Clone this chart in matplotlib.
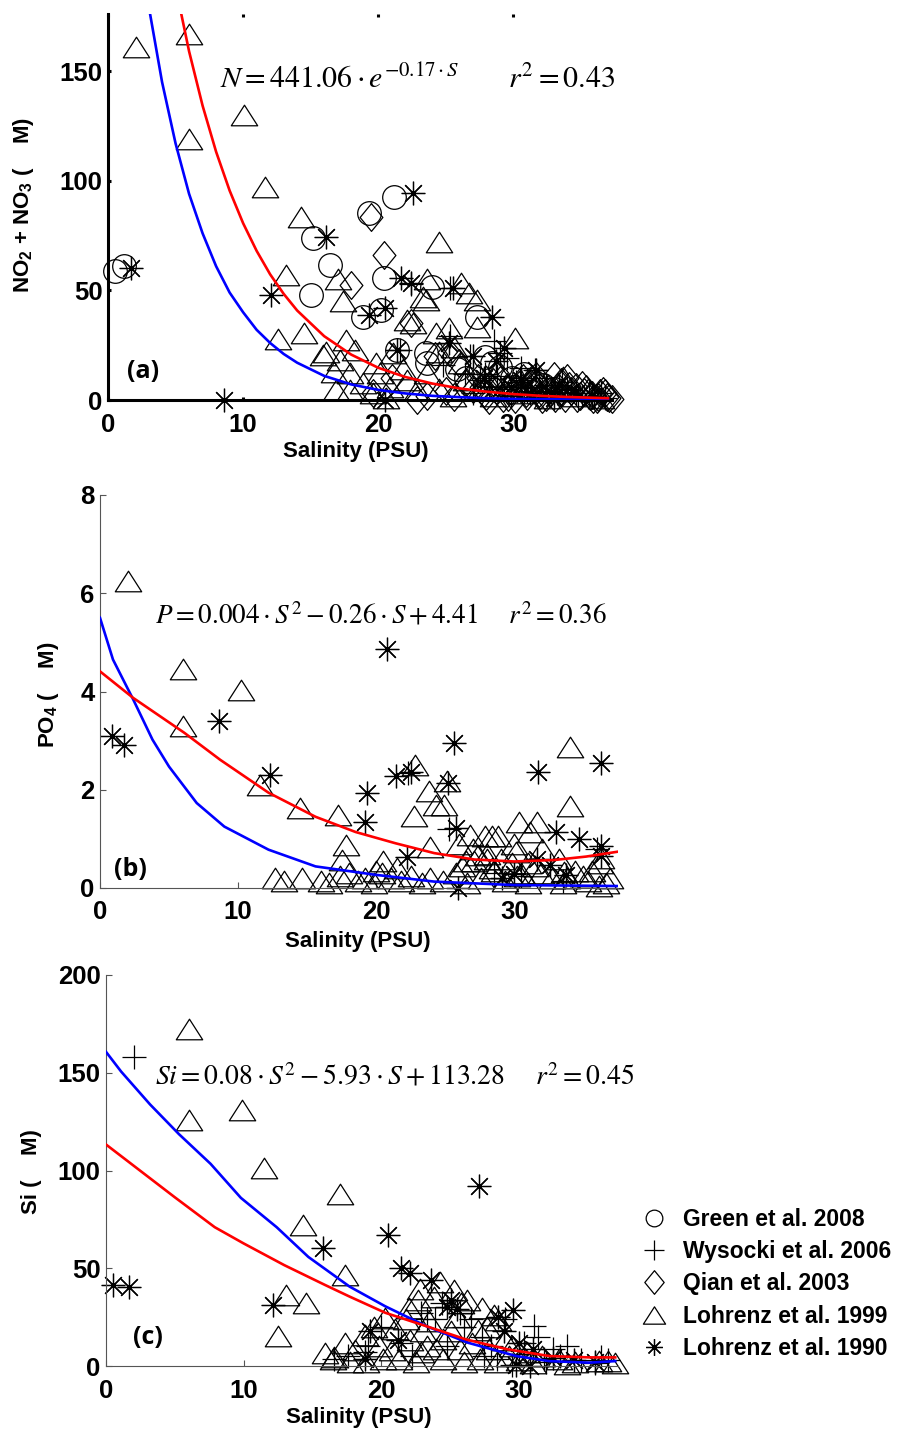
import matplotlib
matplotlib.use('Agg')
import matplotlib.pyplot as plt
from matplotlib.path import Path
from matplotlib.lines import Line2D

plt.rcParams['font.family'] = ['Liberation Sans', 'DejaVu Sans']
plt.rcParams['mathtext.fontset'] = 'custom'
plt.rcParams['mathtext.rm'] = 'Liberation Sans:bold'
plt.rcParams['mathtext.it'] = 'Liberation Sans:italic:bold'
plt.rcParams['mathtext.bf'] = 'Liberation Sans:bold'

# ---- panel (a): NO2 + NO3 ----
a_green_s = [0.5, 1.2, 15.2, 16.4, 15.0, 19.3, 21.2, 20.4, 20.2, 18.9, 21.4, 24.0, 23.5,
             27.3, 27.9, 29.0, 29.9, 25.8, 30.0, 28.4, 31.5, 33.0, 23.6, 26.5, 30.8, 32.2]
a_green_n = [58.6, 60.9, 74, 61.6, 48, 85.4, 92.7, 55.7, 41, 38, 22.8, 51.6, 21.5,
             38, 19.6, 15, 10, 14, 6, 16.9, 8, 5, 16.9, 10, 12, 7]
a_wys_s = [25.3, 25.3, 29.0, 29.5, 31.6, 30.6, 27.5, 28.2, 28.8, 30.2, 31.0, 32.4, 33.2, 34.0,
           35.1, 36.0, 26.4, 27.0, 29.8, 31.9, 33.6, 34.8, 36.5, 21.6, 22.4, 24.8, 26.8, 28.6,
           27.9, 29.3, 30.5, 31.3, 32.8, 34.3, 35.6, 36.8]
a_wys_n = [51, 29, 21.5, 19, 13.7, 14.5, 9, 6, 11, 8, 4, 7, 3, 5,
           2, 1.5, 12, 3, 2, 10, 8, 1, 3, 23, 53, 16, 20, 27,
           12, 5, 10, 6, 3.5, 4.5, 3, 1]
a_qian_s = [19.5, 20.4, 18.0, 22.4, 22.9, 25.6, 27.0, 27.8, 28.5, 29.2,
            29.8, 30.4, 31.0, 31.6, 32.1, 32.7, 33.3, 33.8, 34.3, 34.9,
            35.4, 35.9, 36.4, 36.9, 37.3, 27.4, 28.9, 30.1, 31.3, 32.4,
            33.5, 34.6, 35.7, 36.6, 29.5, 31.9, 34.0, 36.2, 26.5, 28.2,
            30.7, 33.0, 35.1, 24.2, 25.0, 21.0, 23.6, 19.6, 25.2, 26.0,
            27.6, 28.0, 28.7, 29.0, 29.6, 30.3, 30.9, 31.4, 32.0, 32.6,
            33.1, 33.6, 34.1, 34.7, 35.2, 35.8, 36.3, 36.8, 37.1, 31.7]
a_qian_n = [83.6, 66, 52.5, 35, 0, 1.5, 5, 3, 8, 1,
            4, 7, 2, 5, 0.5, 3, 6, 1, 4, 2,
            5, 0.5, 3, 1.5, 0.5, 10, 12, 0.5, 9, 1.5,
            8, 6, 2, 4, 6, 3, 10, 0.3, 8, 0,
            10, 11, 7, 20, 4, 10, 2, 3, 22, 17,
            6, 2, 4.5, 9, 1.5, 5.5, 3, 7, 2.5, 5,
            1, 3.5, 6.5, 1, 3.5, 2.5, 1.5, 3, 1, 11]
a_l99_s = [2.1, 6.0, 6.0, 10.1, 11.6, 14.3, 24.5, 13.2, 12.6, 14.5,
           17.0, 17.4, 16.1, 17.6, 22.6, 23.6, 23.5, 26.1, 26.7, 27.3,
           30.1, 25.2, 24.3, 21.1, 15.9, 17.2, 18.3, 16.7, 17.9, 16.9,
           17.9, 18.9, 20.1, 20.9, 19.6, 22.1, 22.9, 23.6, 22.1, 23.3,
           27.3, 25.6, 24.5, 26.1, 33.7, 27.5, 28.5, 29.5, 30.5, 31.5,
           32.5, 33.5, 34.5, 35.5, 36.5, 26.5, 28.0, 24.5, 25.5, 21.8,
           19.8, 20.6]
a_l99_n = [161, 167, 119, 130, 97, 83.5, 72, 57, 28, 30.6,
           55, 45, 22, 27.4, 35, 55, 45.7, 53.4, 48.9, 33.3,
           28.3, 32.9, 30.6, 21.5, 20.5, 18.3, 22.8, 12.8, 12.3, 4.6,
           4.6, 7.8, 12.3, 6, 3.2, 9, 4.6, 12.3, 36.5, 47,
           45.7, 24.3, 22, 16.9, 10.6, 5, 2, 7, 3, 6,
           1, 4, 2, 5, 1, 9, 11, 5, 2, 14,
           17, 1]
a_l90_s = [1.7, 8.6, 12.1, 16.1, 22.6, 19.3, 20.5, 21.7, 22.4, 25.5, 28.4, 21.4, 25.2, 29.3,
           28.7, 20.5, 31.7, 27.8, 29.8, 30.6, 32.5, 33.4, 34.6, 35.8, 27.0, 31.2, 33.0]
a_l90_n = [60.3, 0, 48, 74.4, 94.5, 38.8, 42, 55.7, 53.4, 51, 38, 22.8, 26, 23.7,
           18, 0, 13.7, 10, 6, 9, 4, 7, 3, 2, 20, 3, 1]
a_red_s = [5, 6, 7, 8, 9, 10, 11, 12, 13, 14, 16, 18, 20, 22, 24, 26, 28, 30, 32, 34, 37]
a_red_n = [188.5, 159.0, 134.2, 113.2, 95.5, 80.6, 68.0, 57.3, 48.4, 40.8, 29.1,
           20.7, 14.7, 10.5, 7.5, 5.3, 3.8, 2.7, 1.9, 1.4, 0.8]
a_blue_s = [3, 4, 5, 6, 7, 8, 9, 10, 11, 12, 13, 14, 16, 18, 20, 22, 24, 26, 28, 30, 33, 37]
a_blue_n = [180, 145, 117, 94, 76, 61, 49, 40, 32, 26, 21, 17, 11, 7.1, 4.6,
            3.0, 1.9, 1.3, 0.8, 0.5, 0.3, 0.1]

# ---- panel (b): PO4 ----
b_wys_s = [25.3, 28.5, 30.5, 33.5, 36.0, 22.3]
b_wys_p = [1.2, 0.3, 0.25, 0.15, 0.8, 2.35]
b_l99_s = [2.0, 6.0, 6.0, 10.2, 11.6, 14.5, 17.2, 17.8, 17.5, 22.8,
           23.8, 25.1, 24.9, 22.7, 23.9, 26.8, 28.4, 30.3, 31.6, 31.1,
           34.0, 34.0, 20.5, 20.0, 21.5,
           12.7, 13.3, 14.6, 16.0, 16.6, 17.4, 18.0, 18.7, 19.2, 19.8,
           20.4, 21.1, 21.8, 22.5, 23.3, 23.9,
           24.3, 27.9, 28.8, 30.1, 27.4, 27.1, 36.3, 36.2, 35.6, 33.6, 33.8,
           24.8, 25.8, 26.6, 27.6, 28.4, 29.3, 30.2, 31.0, 31.9, 32.7,
           33.5, 34.4, 35.3, 36.1, 36.9,
           26.2, 28.0, 29.8, 31.5, 33.2, 35.0, 36.6,
           26.0, 27.0, 28.0, 29.0, 30.0, 31.0, 32.0, 28.5, 30.5, 26.5]
b_l99_p = [6.25, 4.45, 3.3, 4.04, 2.1, 1.63, 1.49, 0.88, 0.57, 2.51,
           1.97, 2.17, 1.69, 1.46, 0.84, 1.08, 1.05, 1.35, 1.35, 1.15,
           2.88, 1.66, 0.54, 0.35, 0.4,
           0.2, 0.15, 0.2, 0.15, 0.1, 0.25, 0.3, 0.15, 0.2, 0.1,
           0.3, 0.2, 0.15, 0.25, 0.1, 0.2,
           1.69, 1.05, 1.05, 0.74, 0.67, 0.55, 0.61, 0.5, 0.35, 0.33, 0.2,
           0.15, 0.3, 0.1, 0.2, 0.4, 0.15, 0.25, 0.1, 0.3, 0.2,
           0.1, 0.35, 0.15, 0.05, 0.2,
           0.45, 0.6, 0.5, 0.45, 0.6, 0.25, 0.1,
           0.9, 0.8, 0.7, 0.6, 0.9, 0.5, 0.8, 0.35, 0.3, 0.55]
b_l90_s = [0.86, 1.75, 8.6, 20.8, 12.3, 19.3, 19.2, 21.4, 22.5, 25.6,
           25.2, 25.8, 31.7, 36.3, 33.0, 34.7, 36.3, 36.3, 22.2, 31.6,
           32.6, 33.7, 25.9, 29.1, 30.0]
b_l90_p = [3.09, 2.92, 3.39, 4.86, 2.3, 1.94, 1.35, 2.27, 2.37, 2.95,
           2.14, 1.22, 2.37, 2.55, 1.15, 1.0, 0.86, 0.65, 0.64, 0.6,
           0.47, 0.27, 0.0, 0.2, 0.28]
b_red_s = [0, 2.4, 6.1, 8.7, 12.2, 15.6, 18.5, 21.4, 24.2, 27.1, 30.0, 32.9, 35.2, 37.5]
b_red_p = [4.41, 3.87, 3.16, 2.61, 1.94, 1.45, 1.14, 0.91, 0.71, 0.58, 0.54, 0.57, 0.64, 0.74]
b_blue_s = [0, 0.94, 2.4, 3.8, 5.0, 7.0, 9.0, 12.2, 15.6, 19.9, 24.2, 30.0, 37.5]
b_blue_p = [5.5, 4.65, 3.84, 3.02, 2.47, 1.73, 1.25, 0.78, 0.44, 0.27, 0.13, 0.06, 0.04]

# ---- panel (c): Si ----
c_wys_s = [2.0, 31.1, 31.4, 30.4, 32.5, 33.0, 31.8, 28.4, 29.5, 25.7, 26.5, 24.4, 23.9, 27.3,
           22.9, 23.3, 21.4, 16.6, 17.6, 18.8, 20.0, 19.0, 26.0, 28.0, 30.0, 32.0, 33.5, 34.5,
           35.5, 36.5, 29.0, 27.5, 24.8, 22.2, 36.0]
c_wys_si = [158.2, 20.3, 15, 12, 8.6, 5.2, 3.6, 3.6, 0.5, 27, 24, 32.3, 24, 15,
            27, 24, 12, 3.6, 5.2, 7, 20, 10, 20, 10, 6, 2, 10, 3,
            1.5, 3, 24, 5, 10, 5, 4.5]
c_l99_s = [6.0, 6.0, 9.9, 11.5, 17.0, 14.3, 17.4, 13.1, 14.5, 12.5,
           15.9, 16.6, 17.4, 18.1, 18.8, 19.8, 20.3, 21.0, 21.8, 20.1,
           18.9, 17.7, 16.5, 21.3, 22.5, 22.9, 23.3, 22.1, 22.7, 22.8,
           24.3, 25.3, 26.2, 27.3, 28.2, 25.1, 27.0, 29.0, 29.5, 30.6,
           31.7, 32.9, 34.1, 35.8, 24.5, 26.0, 27.2, 28.4, 24.0, 25.7,
           26.6, 27.8, 23.8, 25.8, 25.5, 23.5, 22.0, 27.7, 28.5, 19.5,
           20.8, 23.0, 24.5, 30.0, 31.0, 33.5, 36.5, 37.0, 29.3]
c_l99_si = [172.6, 126, 131, 101.5, 88, 72, 46.5, 36.4, 32.3, 15.2,
            6.9, 4.4, 12, 8, 16, 10, 24.7, 19, 24, 3.6,
            2, 2, 3.6, 3.6, 2, 7, 10, 13.5, 33.8, 39.6,
            43, 39, 33.8, 29.7, 26, 17.8, 18.6, 13.5, 10, 7,
            5.2, 3.6, 2, 2.5, 3.6, 2, 3.6, 2, 8.6, 8.6,
            12, 8.6, 35.3, 32, 25, 23, 29.8, 20, 23.5, 20,
            8, 18, 14, 3, 1.5, 1, 2.5, 1.5, 5]
c_l90_s = [0.5, 1.65, 12.1, 15.8, 20.5, 27.1, 21.4, 22.1, 23.6, 25.1, 24.8, 29.6, 28.9,
           19.2, 21.2, 18.8, 25.5, 28.5, 30.0, 31.0, 29.8, 30.8, 32.5, 34.0, 35.5]
c_l90_si = [41.5, 40.6, 31.3, 60.2, 66.8, 92.2, 50, 47.5, 44, 33.8, 30, 28.8, 18,
            17.8, 13.5, 3.6, 29, 25, 12, 8.6, 0.5, 0, 4, 3, 2]
c_red_s = [0, 5.0, 7.9, 10.0, 12.95, 15.9, 17.7, 20.3, 23.3, 26.2, 29.2, 32.2, 35.1, 37.0]
c_red_si = [113.3, 86.3, 71, 62.7, 51.6, 41.5, 35.5, 27.2, 20.3, 13.5, 8.5, 5.1, 4.4, 4.4]
c_blue_s = [0, 1.1, 3.2, 5.3, 7.6, 9.8, 12.4, 14.7, 17.7, 20.3, 23.3, 26.3, 29.8, 32.2, 35.1, 37.0]
c_blue_si = [160.7, 150.6, 133.8, 118.6, 103.4, 86, 71, 55.8, 40.6, 30.5, 20.3, 11.9,
             5.1, 2.5, 1.7, 2.5]

legend_labels = ['Green et al. 2008', 'Wysocki et al. 2006', 'Qian et al. 2003',
                 'Lohrenz et al. 1999', 'Lohrenz et al. 1990']

# ---- marker styles ----
TRI = Path([(-1, -0.78), (1, -0.78), (0, 0.78), (-1, -0.78)],
           [Path.MOVETO, Path.LINETO, Path.LINETO, Path.CLOSEPOLY])
DIA = Path([(0, 1), (0.82, 0), (0, -1), (-0.82, 0), (0, 1)],
           [Path.MOVETO, Path.LINETO, Path.LINETO, Path.LINETO, Path.CLOSEPOLY])
STAR = (8, 2, 0)
STYLE = {'green': ('o', 17), 'wys': ('+', 17), 'qian': (DIA, 20),
         'l99': (TRI, 19), 'l90': (STAR, 17)}
LEGEND_SIZE = {'green': 12, 'wys': 15, 'qian': 17, 'l99': 16, 'l90': 12}

W, H = 904, 1433
fig = plt.figure(figsize=(W / 100, H / 100), dpi=100)


def px_axes(l, t, r, b):
    return fig.add_axes([l / W, 1 - b / H, (r - l) / W, (b - t) / H])


def px_text(x, y, s, **kw):
    kw.setdefault('fontweight', 'bold')
    return fig.text(x / W, 1 - y / H, s, **kw)


def draw_points(ax, s, v, key):
    marker, ms = STYLE[key]
    ax.plot(s, v, linestyle='none', marker=marker, markersize=ms, markerfacecolor='none',
            markeredgecolor='black', markeredgewidth=0.9, clip_on=False, zorder=2)


def draw_fits(ax, rs, rv, bs, bv):
    ax.plot(bs, bv, color='#0000ff', lw=1.9, zorder=3)
    ax.plot(rs, rv, color='#ff0000', lw=1.9, zorder=3)


def style_axes(ax, thick):
    for side in ['top', 'right']:
        ax.spines[side].set_visible(False)
    if thick:
        lw, col = 2.2, 'black'
    else:
        lw, col = 0.8, '#555555'
    for side in ['left', 'bottom']:
        ax.spines[side].set_linewidth(lw)
        ax.spines[side].set_color(col)
    ax.tick_params(axis='both', direction='in', length=4, width=lw, color=col, labelsize=18.5)
    ax.tick_params(axis='x', pad=9)
    ax.tick_params(axis='y', pad=4)
    for lbl in ax.get_xticklabels() + ax.get_yticklabels():
        lbl.set_fontweight('bold')


# panel a
ax_a = px_axes(108, 14, 612, 400)
draw_points(ax_a, a_l99_s, a_l99_n, 'l99')
draw_points(ax_a, a_qian_s, a_qian_n, 'qian')
draw_points(ax_a, a_green_s, a_green_n, 'green')
draw_points(ax_a, a_wys_s, a_wys_n, 'wys')
draw_points(ax_a, a_l90_s, a_l90_n, 'l90')
draw_fits(ax_a, a_red_s, a_red_n, a_blue_s, a_blue_n)
ax_a.set_xlim(0, 37.3)
ax_a.set_ylim(0, 176)
ax_a.set_xticks([0, 10, 20, 30])
ax_a.set_yticks([0, 50, 100, 150])
style_axes(ax_a, True)
ax_a.tick_params(top=True, which='major', length=2)

# panel b
ax_b = px_axes(100, 495, 618, 888)
draw_points(ax_b, b_l99_s, b_l99_p, 'l99')
draw_points(ax_b, b_wys_s, b_wys_p, 'wys')
draw_points(ax_b, b_l90_s, b_l90_p, 'l90')
draw_fits(ax_b, b_red_s, b_red_p, b_blue_s, b_blue_p)
ax_b.set_xlim(0, 37.5)
ax_b.set_ylim(0, 8)
ax_b.set_xticks([0, 10, 20, 30])
ax_b.set_yticks([0, 2, 4, 6, 8])
style_axes(ax_b, False)

# panel c
ax_c = px_axes(106, 975, 618, 1366)
draw_points(ax_c, c_l99_s, c_l99_si, 'l99')
draw_points(ax_c, c_wys_s, c_wys_si, 'wys')
draw_points(ax_c, c_l90_s, c_l90_si, 'l90')
draw_fits(ax_c, c_red_s, c_red_si, c_blue_s, c_blue_si)
ax_c.set_xlim(0, 37.2)
ax_c.set_ylim(0, 200)
ax_c.set_xticks([0, 10, 20, 30])
ax_c.set_yticks([0, 50, 100, 150, 200])
style_axes(ax_c, False)

# equations
eq_kw = dict(fontsize=21.5, math_fontfamily='stix', fontweight='normal', va='baseline', ha='left')
px_text(220, 88, r'$N = 441.06\cdot e^{-0.17\cdot S}$' + '      ' + r'$r^2 = 0.43$', **eq_kw)
eq_kw['fontsize'] = 19.5
px_text(155, 623, r'$P = 0.004\cdot S^{2} - 0.26\cdot S + 4.41$' + '    ' + r'$r^2 = 0.36$', **eq_kw)
eq_kw['fontsize'] = 20
px_text(155, 1085, r'$Si = 0.08\cdot S^{2} - 5.93\cdot S + 113.28$' + '    ' + r'$r^2 = 0.45$',
        **eq_kw)

# panel letters
for x, y, s in [(143, 371, '(a)'), (130, 869, '(b)'), (148, 1337, '(c)')]:
    px_text(x, y, s, family=['Open Sans', 'DejaVu Sans'], fontsize=18, ha='center', va='center')

# axis labels
for x, y in [(356, 452), (358, 941), (359, 1418)]:
    px_text(x, y, 'Salinity (PSU)', fontsize=16, ha='center', va='center')
px_text(24, 205, r'NO$_2$ + NO$_3$ (    M)', fontsize=16, rotation=90, ha='center', va='center',
        math_fontfamily='custom')
px_text(49, 695, r'PO$_4$ (    M)', fontsize=16, rotation=90, ha='center', va='center',
        math_fontfamily='custom')
px_text(32, 1172, 'Si (    M)', fontsize=16, rotation=90, ha='center', va='center')

# legend
for i, (key, label) in enumerate(zip(['green', 'wys', 'qian', 'l99', 'l90'], legend_labels)):
    y = 1218 + i * 32.2
    marker = STYLE[key][0]
    fig.add_artist(Line2D([654 / W], [1 - y / H], transform=fig.transFigure, linestyle='none',
                          marker=marker, markersize=LEGEND_SIZE[key], markerfacecolor='none',
                          markeredgecolor='black', markeredgewidth=0.9))
    px_text(683, y + 8, label, fontsize=16.5, ha='left', va='baseline')

fig.savefig('out.png', dpi=100)
